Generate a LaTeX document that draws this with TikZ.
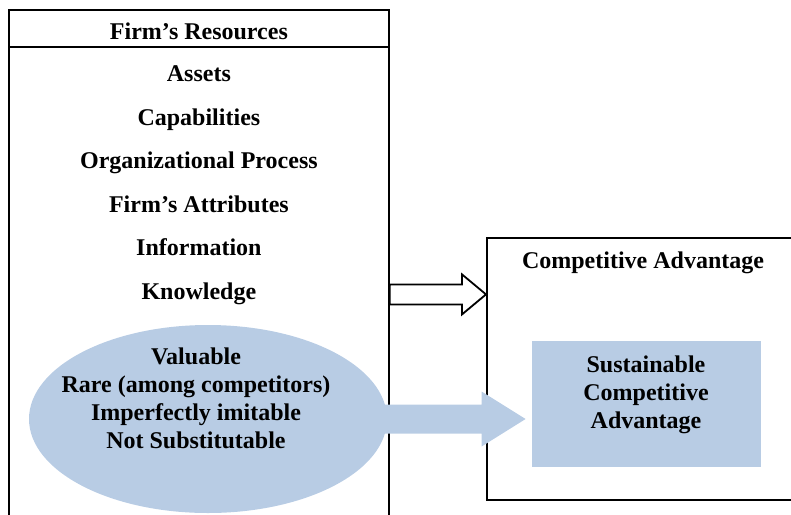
\documentclass[tikz,border=0pt]{standalone}
\usepackage{fontspec}
\setmainfont{Liberation Serif}
\usetikzlibrary{positioning, calc, shapes.geometric}
\definecolor{paleblue}{RGB}{184,204,228}

\begin{document}
\begin{tikzpicture}[
	x=0.5pt, y=-0.5pt,
	node distance=10.4pt,
	every node/.style={font=\bfseries\fontsize{12}{14}\selectfont},
	frame/.style={draw, rectangle, line width=0.9pt, inner sep=0pt},
	item/.style={text height=8pt, text depth=3pt, inner sep=0pt},
	blob/.style={ellipse, fill=paleblue, inner sep=0pt},
	hollow/.style={draw, fill=white, line width=0.9pt, line join=miter}
	]
	\clip (0,0) rectangle (791,514);

	% Boxes
	\node (resbox) [frame, minimum width=190pt, minimum height=265pt, anchor=north west] at (8,9) {};
	\node (restitle) [frame, minimum width=190pt, minimum height=18.5pt, text height=11pt, text depth=0pt, anchor=north west] at (8,9) {Firm's Resources};
	\node (cabox) [frame, minimum width=160pt, minimum height=131pt, anchor=north west] at (486,237) {};
	\node (catitle) at (643,263) {Competitive Advantage};

	% Resources
	\node (assets) [item, below=8.6pt of restitle] {Assets};
	\node (capab) [item, below=of assets] {Capabilities};
	\node (orgproc) [item, below=of capab] {Organizational Process};
	\node (attrib) [item, below=of orgproc] {Firm's Attributes};
	\node (info) [item, below=of attrib] {Information};
	\node (knowledge) [item, below=of info] {Knowledge};

	% VRIN ellipse and target
	\node (vrin) [blob, minimum width=179pt, minimum height=94pt] at (208,419) {};
	\node (sca) [fill=paleblue, minimum width=114.5pt, minimum height=63pt] at (646.5,404) {};

	% Arrows
	\coordinate (filltail) at ($(vrin.east)+(-20,0)$);
	\coordinate (filltip) at ($(vrin -| sca.west)+(-6,0)$);
	\fill[paleblue] (filltail) ++(0,-14.5) -- ($(filltip)+(-44,-14.5)$) -- ++(0,-13) -- (filltip)
		-- ++(-44,27.5) -- ++(0,-13) -- ($(filltail)+(0,14.5)$) -- cycle;
	\coordinate (hollowtail) at (knowledge -| resbox.east);
	\coordinate (hollowtip) at (knowledge -| cabox.west);
	\draw[hollow] (hollowtail) ++(0,-10) -- ($(hollowtip)+(-24,-10)$) -- ++(0,-10) -- (hollowtip)
		-- ++(-24,20) -- ++(0,-10) -- ($(hollowtail)+(0,10)$) -- cycle;

	% Labels
	\node (vrintext) [align=center] at (196,398) {Valuable\\Rare (among competitors)\\Imperfectly imitable\\Not Substitutable};
	\node (scatext) [align=center] at (646,394.5) {Sustainable\\Competitive\\Advantage};

\end{tikzpicture}
\end{document}
